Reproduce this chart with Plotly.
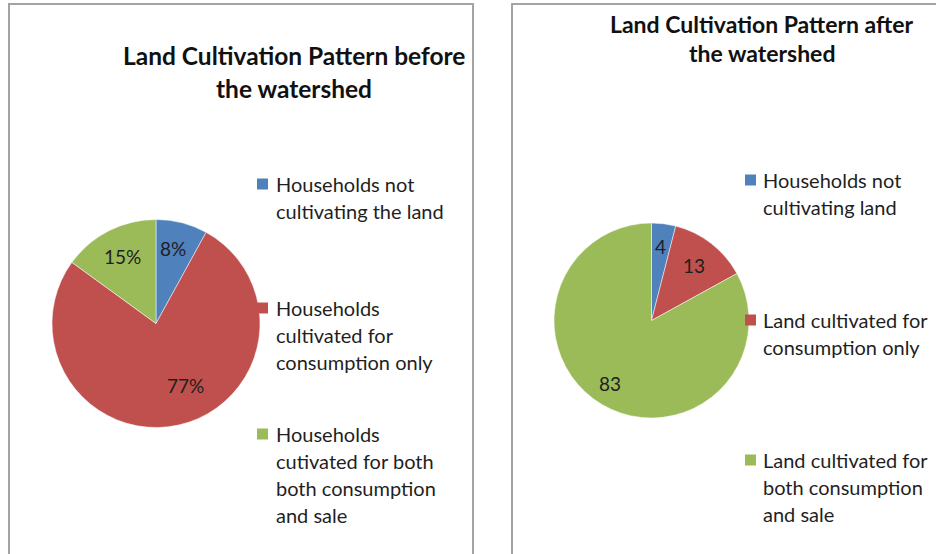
import math
import plotly.graph_objects as go

# ---- data -------------------------------------------------------------
before_labels = [
    "Households not<br>cultivating the land",
    "Households<br>cultivated for<br>consumption only",
    "Households<br>cutivated for both<br>both consumption<br>and sale",
]
before_values = [8, 77, 15]

after_labels = [
    "Households not<br>cultivating land",
    "Land cultivated for<br>consumption only",
    "Land cultivated for<br>both consumption<br>and sale",
]
after_values = [4, 13, 83]

before_title = ["Land Cultivation Pattern before", "the watershed"]
after_title = ["Land Cultivation Pattern after", "the watershed"]

colors = ["#4F81BD", "#C0504D", "#9BBB59"]

# ---- layout constants (pixels) ---------------------------------------
W, H = 936, 554
FONT = "Lato"
TEXT_COLOR = "#1f1f1f"


def fx(x):
    return x / W


def fy(y):
    return 1 - y / H


panels = [
    dict(values=before_values, labels=before_labels, title=before_title,
         fmt="{}%", cx=156, cy=323.5, r=104,
         title_x=294, title_y=[56, 88], title_size=24.5,
         leg_mark_x=257, leg_text_x=274, leg_y=[184, 308, 434],
         lab_frac=[0.74, 0.66, 0.72], lab_shift=[-2, -13, 0]),
    dict(values=after_values, labels=after_labels, title=after_title,
         fmt="{}", cx=651.5, cy=320.5, r=97.5,
         title_x=762, title_y=[24, 53], title_size=23,
         leg_mark_x=745, leg_text_x=761, leg_y=[180, 320, 460],
         lab_frac=[0.77, 0.71, 0.77], lab_shift=[0, 0, 3]),
]

fig = go.Figure()
annotations = []
shapes = []

# panel frames
shapes.append(dict(type="rect", xref="paper", yref="paper",
                   x0=fx(9), x1=fx(473), y0=fy(560), y1=fy(4),
                   line=dict(color="#A3A3A3", width=2)))
shapes.append(dict(type="rect", xref="paper", yref="paper",
                   x0=fx(512), x1=fx(960), y0=fy(560), y1=fy(4),
                   line=dict(color="#A3A3A3", width=2)))

LINE_STEP = 27

for p in panels:
    cx, cy, r = p["cx"], p["cy"], p["r"]
    fig.add_trace(go.Pie(
        values=p["values"], labels=p["labels"], sort=False,
        direction="clockwise", rotation=0,
        marker=dict(colors=colors, line=dict(color="white", width=0.5)),
        textinfo="none", hoverinfo="skip", showlegend=False,
        domain=dict(x=[fx(cx - r), fx(cx + r)], y=[fy(cy + r), fy(cy - r)]),
    ))

    # slice value labels placed near each slice's bisector
    total = sum(p["values"])
    cum = 0
    for i, v in enumerate(p["values"]):
        theta = math.radians(360 * (cum + v / 2) / total + p["lab_shift"][i])
        d = p["lab_frac"][i] * r
        lx = cx + d * math.sin(theta)
        ly = cy - d * math.cos(theta)
        annotations.append(dict(
            x=fx(lx), y=fy(ly), xref="paper", yref="paper",
            text=p["fmt"].format(v), showarrow=False,
            xanchor="center", yanchor="middle",
            font=dict(family=FONT, size=19, color=TEXT_COLOR)))
        cum += v

    # title lines
    for line, ty in zip(p["title"], p["title_y"]):
        annotations.append(dict(
            x=fx(p["title_x"]), y=fy(ty), xref="paper", yref="paper",
            text="<b>" + line + "</b>", showarrow=False,
            xanchor="center", yanchor="middle",
            font=dict(family=FONT, size=p["title_size"], color="#111111")))

    # legend: colour square + wrapped label
    for i, (lab, y0) in enumerate(zip(p["labels"], p["leg_y"])):
        shapes.append(dict(
            type="rect", xref="paper", yref="paper",
            x0=fx(p["leg_mark_x"]), x1=fx(p["leg_mark_x"] + 11),
            y0=fy(y0 + 5.5), y1=fy(y0 - 5.5),
            fillcolor=colors[i], line=dict(width=0)))
        for k, line in enumerate(lab.split("<br>")):
            annotations.append(dict(
                x=fx(p["leg_text_x"]), y=fy(y0 + k * LINE_STEP),
                xref="paper", yref="paper", text=line, showarrow=False,
                xanchor="left", yanchor="middle",
                font=dict(family=FONT, size=20, color=TEXT_COLOR)))

fig.update_layout(
    width=W, height=H,
    margin=dict(l=0, r=0, t=0, b=0),
    paper_bgcolor="white", plot_bgcolor="white",
    shapes=shapes, annotations=annotations,
)

fig.write_html("out.html")
